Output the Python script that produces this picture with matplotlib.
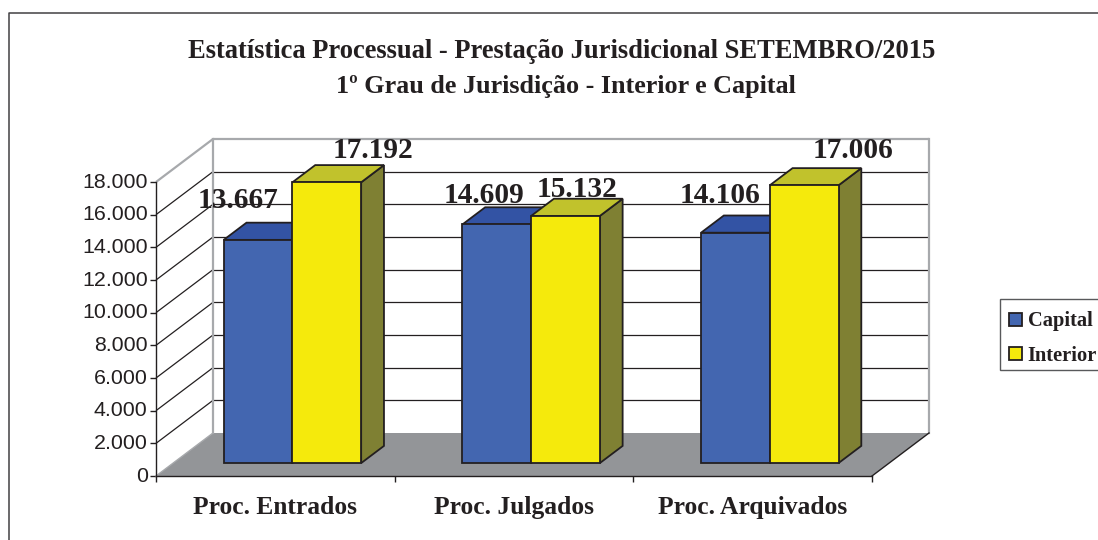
import matplotlib
matplotlib.use("Agg")
import matplotlib.pyplot as plt
from matplotlib.patches import Polygon, Patch, Rectangle
from matplotlib.transforms import ScaledTranslation

categories = ["Proc. Entrados", "Proc. Julgados", "Proc. Arquivados"]
capital = [13667, 14609, 14106]
interior = [17192, 15132, 17006]
series_names = ["Capital", "Interior"]
y_ticks = list(range(0, 18001, 2000))
y_labels = [f"{v:,}".replace(",", ".") for v in y_ticks]
title_lines = ["Estatística Processual - Prestação Jurisdicional SETEMBRO/2015",
               "1º Grau de Jurisdição - Interior e Capital"]

W, H = 1098, 540
INK = "#231f20"
GREY = "#a7a9ac"
FLOOR = "#939598"
face = {"Capital": ("#4366b0", "#3353a4", "#2b4785"),
        "Interior": ("#f5ea0c", "#c1c22c", "#7f8033")}
serif = "Liberation Serif"
sans = "Liberation Sans"

fig = plt.figure(figsize=(W / 100, H / 100), dpi=100, facecolor="white")
fx = lambda px: px / W
fy = lambda py: 1 - py / H

# frame
fig.add_artist(plt.Line2D([fx(9), fx(9), fx(W + 5)], [fy(H + 5), fy(13), fy(13)],
                          color="#414042", lw=1.1))

L, R, B, T = 156, 872, 476, 182
ax = fig.add_axes([fx(L), fy(B), (R - L) / W, (B - T) / H])
ax.set_xlim(0, len(categories))
ax.set_ylim(0, 18000)
ax.patch.set_visible(False)
ux = len(categories) / (R - L)
uy = 18000 / (B - T)
DX, DY = 57, 43


def P(x, v, d):
    return (x + d * DX * ux, v + d * DY * uy)


XN, VN = len(categories), 18000
# floor
ax.add_patch(Polygon([P(0, 0, 0), P(XN, 0, 0), P(XN, 0, 1), P(0, 0, 1)],
                     closed=True, fc=FLOOR, ec="none", clip_on=False, zorder=1))
# gridlines: side wall and back wall
for v in y_ticks[1:]:
    top = v == y_ticks[-1]
    c = GREY if top else INK
    lw = 1.6 if top else 0.9
    ax.plot(*zip(P(0, v, 0), P(0, v, 1)), color=c, lw=lw, clip_on=False, zorder=2,
            solid_capstyle="butt")
    ax.plot(*zip(P(0, v, 1), P(XN, v, 1)), color=c, lw=lw, clip_on=False, zorder=2,
            solid_capstyle="butt")
# wall verticals
for x in (0, XN):
    ax.plot(*zip(P(x, 0, 1), P(x, VN, 1)), color=GREY, lw=1.6, clip_on=False, zorder=2.5)
# floor edges
ax.plot(*zip(P(XN, 0, 0), P(XN, 0, 1)), color=INK, lw=1.0, clip_on=False, zorder=2.5)
ax.plot(*zip(P(0, 0, 0), P(0, 0, 1)), color=GREY, lw=1.0, clip_on=False, zorder=2.5)

# bars
BW = 0.288
D0, D1 = 0.30, 0.70
z = 3
for name, vals, off in ((series_names[0], capital, -BW), (series_names[1], interior, 0)):
    fc, tc, sc = face[name]
    for i, v in enumerate(vals):
        x0 = i + 0.5 + off
        x1 = x0 + BW
        ax.add_patch(Polygon([P(x1, 0, D0), P(x1, 0, D1), P(x1, v, D1), P(x1, v, D0)],
                             closed=True, fc=sc, ec=INK, lw=1.3, clip_on=False, zorder=z))
        ax.add_patch(Polygon([P(x0, v, D0), P(x1, v, D0), P(x1, v, D1), P(x0, v, D1)],
                             closed=True, fc=tc, ec=INK, lw=1.3, clip_on=False, zorder=z))
        bx, by = P(x0, 0, D0)
        ax.bar(bx, v, width=BW, bottom=by, align="edge", color=fc, edgecolor=INK,
               linewidth=1.3, clip_on=False, zorder=z + 0.1)
    z += 1

# value labels
label_off_x = [-20, -13, -15, 46, 12, 49]
label_off_y = [39, 29, 37, 32, 26, 35]
k = 0
for vals, off in ((capital, -BW / 2), (interior, BW / 2)):
    for i, v in enumerate(vals):
        ax.annotate(f"{v:,}".replace(",", "."), xy=P(i + 0.5 + off, v, D0),
                    xytext=(label_off_x[k] * 0.72, label_off_y[k] * 0.72),
                    textcoords="offset points", ha="center", va="center",
                    fontfamily=serif, fontweight="bold", fontsize=21.2, color=INK,
                    annotation_clip=False, zorder=10)
        k += 1

# axes
for s in ("top", "right"):
    ax.spines[s].set_visible(False)
for s in ("left", "bottom"):
    ax.spines[s].set_color(INK)
    ax.spines[s].set_linewidth(1.0)
    ax.spines[s].set_zorder(6)
ax.set_yticks(y_ticks, y_labels, fontfamily=sans, fontsize=15.4, color=INK)
ax.set_xticks(range(len(categories) + 1), [""] * (len(categories) + 1))
ax.tick_params(axis="y", length=4, width=1.0, color=INK, pad=2)
ax.tick_params(axis="x", length=4.5, width=1.0, color=INK)
for lab in ax.get_yticklabels():
    lab.set_transform(lab.get_transform() + ScaledTranslation(0, 2 / 100, fig.dpi_scale_trans))
for i, c in enumerate(categories):
    ax.annotate(c, xy=(i + 0.5, 0), xycoords="data", xytext=(0, -22.5),
                textcoords="offset points", ha="center", va="center",
                fontfamily=serif, fontweight="bold", fontsize=18.4, color=INK,
                annotation_clip=False)

# title
for text, px, py, fs in zip(title_lines, (562, 566), (51, 87), (19.1, 18.8)):
    fig.text(fx(px), fy(py), text, ha="center", va="center", fontfamily=serif,
             fontweight="bold", fontsize=fs, color=INK)

# legend
fig.add_artist(Rectangle((fx(1000), fy(370)), 110 / W, 71 / H, transform=fig.transFigure,
                         fc="white", ec="#58595b", lw=1.0, zorder=3))
handles = [Patch(facecolor=face[n][0], edgecolor=INK, linewidth=1.3, label=n)
           for n in series_names]
leg = fig.legend(handles=handles, loc="upper left",
                 bbox_to_anchor=(fx(998), fy(300)), bbox_transform=fig.transFigure,
                 frameon=False,
                 prop={"family": serif, "weight": "bold", "size": 14.8},
                 handlelength=0.6, handleheight=0.6, handletextpad=0.3,
                 labelspacing=0.72, borderpad=0.55, borderaxespad=0)
leg.set_zorder(4)
for t in leg.get_texts():
    t.set_color(INK)

fig.savefig("out.png", dpi=100)
